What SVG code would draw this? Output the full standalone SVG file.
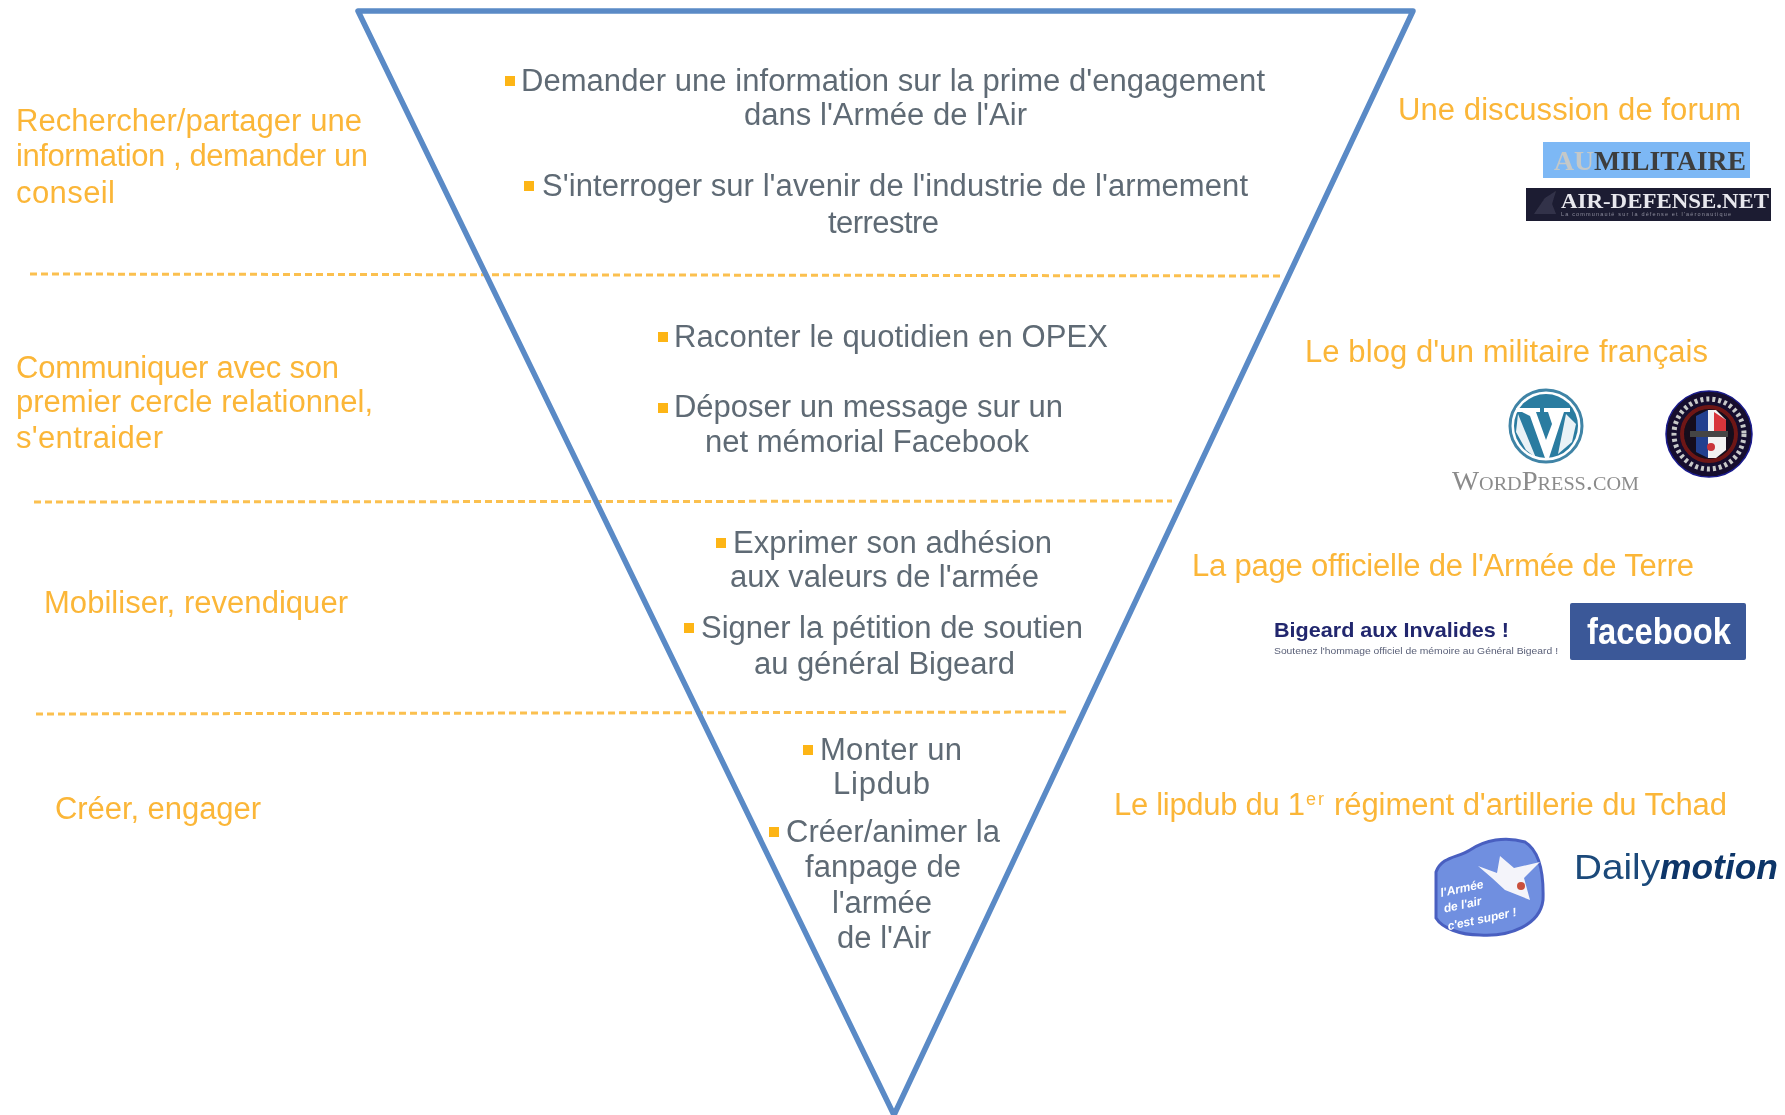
<svg xmlns="http://www.w3.org/2000/svg" width="1785" height="1115" viewBox="0 0 1785 1115">
<defs><filter id="soft" x="-2%" y="-2%" width="104%" height="104%"><feGaussianBlur stdDeviation="0.7"/></filter></defs>
<style>
text{font-family:"Liberation Sans",Arial,sans-serif}
.c{font-size:31px;fill:#5f6b74}
.o{font-size:31px;fill:#fbb638}
.b{fill:#fdb515}
.d{fill:none;stroke:#fbc04f;stroke-width:3;stroke-dasharray:7 4}
</style>
<rect width="1785" height="1115" fill="#fff"/>
<g filter="url(#soft)">
<g id="connectors">
<path class="d" d="M30 274L1280 276"/>
<path class="d" d="M34 502L1172 501"/>
<path class="d" d="M36 714L1070 712"/>
</g>
<g id="funnel"><path d="M358 11H1413L894 1115Z" fill="none" stroke="#5a8ac6" stroke-width="5.5" stroke-linejoin="round"/></g>
<g id="tier1">
<rect class="b" x="505" y="76" width="10" height="10"/>
<text class="c" x="521" y="91" textLength="744">Demander une information sur la prime d'engagement</text>
<text class="c" x="744" y="125" textLength="283">dans l'Armée de l'Air</text>
<rect class="b" x="524" y="181" width="10" height="10"/>
<text class="c" x="542" y="196" textLength="706">S'interroger sur l'avenir de l'industrie de l'armement</text>
<text class="c" x="828" y="233" textLength="111">terrestre</text>
<text class="o" x="16" y="131" textLength="346">Rechercher/partager une</text>
<text class="o" x="16" y="166" textLength="352">information , demander un</text>
<text class="o" x="16" y="203" textLength="99">conseil</text>
<text class="o" x="1398" y="120" textLength="343">Une discussion de forum</text>
</g>
<g id="tier2">
<rect class="b" x="658" y="332" width="10" height="10"/>
<text class="c" x="674" y="347" textLength="434">Raconter le quotidien en OPEX</text>
<rect class="b" x="658" y="403" width="10" height="10"/>
<text class="c" x="674" y="417" textLength="389">Déposer un message sur un</text>
<text class="c" x="705" y="452" textLength="324">net mémorial Facebook</text>
<text class="o" x="16" y="378" textLength="323">Communiquer avec son</text>
<text class="o" x="16" y="412" textLength="357">premier cercle relationnel,</text>
<text class="o" x="16" y="448" textLength="147">s'entraider</text>
<text class="o" x="1305" y="362" textLength="403">Le blog d'un militaire français</text>
</g>
<g id="tier3">
<rect class="b" x="716" y="538" width="10" height="10"/>
<text class="c" x="733" y="553" textLength="319">Exprimer son adhésion</text>
<text class="c" x="730" y="587" textLength="309">aux valeurs de l'armée</text>
<rect class="b" x="684" y="623" width="10" height="10"/>
<text class="c" x="701" y="638" textLength="382">Signer la pétition de soutien</text>
<text class="c" x="754" y="674" textLength="261">au général Bigeard</text>
<text class="o" x="44" y="613" textLength="304">Mobiliser, revendiquer</text>
<text class="o" x="1192" y="576" textLength="502">La page officielle de l'Armée de Terre</text>
</g>
<g id="tier4">
<rect class="b" x="803" y="745" width="10" height="10"/>
<text class="c" x="820" y="760" textLength="142">Monter un</text>
<text class="c" x="833" y="794" textLength="97">Lipdub</text>
<rect class="b" x="769" y="827" width="10" height="10"/>
<text class="c" x="786" y="842" textLength="214">Créer/animer la</text>
<text class="c" x="805" y="877" textLength="156">fanpage de</text>
<text class="c" x="832" y="913" textLength="100">l'armée</text>
<text class="c" x="837" y="948" textLength="94">de l'Air</text>
<text class="o" x="55" y="819" textLength="206">Créer, engager</text>
<text class="o" x="1114" y="815" textLength="191">Le lipdub du 1</text>
<text x="1306" y="805" font-size="18" fill="#fbb638" textLength="18">er</text>
<text class="o" x="1334" y="815" textLength="393">régiment d'artillerie du Tchad</text>
</g>
<g id="logo-aumilitaire">
<rect x="1543" y="142" width="207" height="36" fill="#7db8f5"/>
<text x="1554" y="170" style="font-family:'Liberation Serif',serif" font-size="27" font-weight="700" fill="#3e3e3c" textLength="192" lengthAdjust="spacingAndGlyphs"><tspan fill="#c4c8c8">AU</tspan>MILITAIRE</text>
</g>
<g id="logo-airdefense">
<rect x="1526" y="188" width="245" height="33" fill="#1f1f33"/>
<path d="M1534 214L1545 198L1556 191L1552 204L1556 214Z" fill="#33334a"/>
<text x="1561" y="208" style="font-family:'Liberation Serif',serif" font-size="20" font-weight="700" fill="#e8e8ee" textLength="208" lengthAdjust="spacingAndGlyphs">AIR-DEFENSE.NET</text>
<text x="1561" y="216" font-size="5.5" fill="#8a8a9c" textLength="170">La communauté sur la défense et l'aéronautique</text>
</g>
<g id="logo-wordpress">
<circle cx="1546" cy="426" r="36" fill="#fff" stroke="#3f84a6" stroke-width="3"/>
<circle cx="1546" cy="426" r="32" fill="#2c7ba0"/>
<path d="M1516 408H1540V412H1536L1546 440L1552 424L1548 412H1544V408H1570V412H1564L1549 458H1545L1530 416L1522 412H1516Z" fill="#fff"/>
<path d="M1518 414L1536 458L1526 450L1516 432ZM1566 414L1576 424L1572 442L1558 454Z" fill="#fff" opacity=".9"/>
<text x="1452" y="490" style="font-family:'Liberation Serif',serif;font-variant:small-caps" font-size="27" fill="#8b8b8b" textLength="187" lengthAdjust="spacingAndGlyphs">WordPress.com</text>
</g>
<g id="logo-memorial">
<circle cx="1709" cy="434" r="43" fill="#14102e" stroke="#1a1a8c" stroke-width="1.5"/>
<circle cx="1709" cy="434" r="35" fill="none" stroke="#c8c8c8" stroke-width="5" stroke-dasharray="3 3"/>
<circle cx="1709" cy="434" r="27" fill="#15101c" stroke="#6e1414" stroke-width="4"/>
<path d="M1696 416L1708 410V458L1696 452Z" fill="#24408f"/>
<path d="M1708 410H1716L1726 420V450L1716 458H1708Z" fill="#f2f2f2"/>
<path d="M1714 412L1726 420V434H1714Z" fill="#d8343a"/>
<rect x="1690" y="431" width="38" height="6" fill="#444"/>
<circle cx="1711" cy="447" r="4" fill="#c9343a"/>
</g>
<g id="logo-bigeard">
<text x="1274" y="637" font-size="21" font-weight="700" fill="#20286e" textLength="235" lengthAdjust="spacingAndGlyphs">Bigeard aux Invalides !</text>
<text x="1274" y="654" font-size="9.5" fill="#5a6078" textLength="284" lengthAdjust="spacingAndGlyphs">Soutenez l'hommage officiel de mémoire au Général Bigeard !</text>
</g>
<g id="logo-facebook">
<rect x="1570" y="603" width="176" height="57" rx="2" fill="#3b5998"/>
<text x="1587" y="644" font-size="36" font-weight="700" fill="#fff" textLength="144" lengthAdjust="spacingAndGlyphs">facebook</text>
</g>
<g id="logo-armee-air">
<path d="M1436 872C1442 856 1458 858 1470 850C1485 840 1505 836 1525 842C1538 850 1544 870 1543 900C1540 925 1510 937 1480 935C1460 935 1442 928 1436 918Z" fill="#6f8fe0" stroke="#4a5fc0" stroke-width="3"/>
<path d="M1478 866L1497 873L1500 856L1514 868L1540 862L1524 878L1530 900L1505 890L1492 878Z" fill="#f4f4fa"/>
<circle cx="1521" cy="886" r="4" fill="#c9503c"/>
<g transform="rotate(-12 1485 905)" font-size="12" font-weight="700" font-style="italic" fill="#fff">
<text x="1444" y="888">l'Armée</text>
<text x="1444" y="904">de l'air</text>
<text x="1444" y="922">c'est super !</text>
</g>
</g>
<g id="logo-dailymotion">
<text x="1574" y="879" font-size="35" fill="#1a4a7a" textLength="86" lengthAdjust="spacingAndGlyphs">Daily</text>
<text x="1660" y="879" font-size="35" font-weight="700" font-style="italic" fill="#0c3468" textLength="118" lengthAdjust="spacingAndGlyphs">motion</text>
</g>
</g>
</svg>
